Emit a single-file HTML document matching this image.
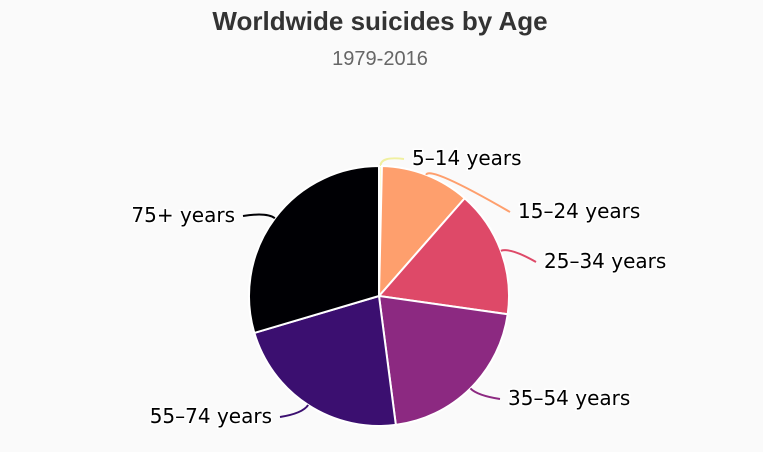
<!DOCTYPE html>
<html><head><meta charset="utf-8">
<style>
body{margin:0;background:#fafafa;}
svg{display:block;}
.lbl{font-family:"DejaVu Sans","Liberation Sans",sans-serif;font-size:20px;fill:#000;paint-order:stroke;stroke:#fff;stroke-width:3px;}
</style></head>
<body>
<svg id="chart" width="763" height="452" viewBox="0 0 763 452">
<rect width="763" height="452" fill="#fafafa"/>
<text x="380" y="30" text-anchor="middle" font-family="Liberation Sans, sans-serif" font-weight="bold" font-size="26" fill="#333">Worldwide suicides by Age</text>
<text x="380" y="65" text-anchor="middle" font-family="Liberation Sans, sans-serif" font-size="20" fill="#666">1979-2016</text>
<g id="pie"></g>
</svg>
<script>
const categories = ["5-14 years","15-24 years","25-34 years","35-54 years","55-74 years","75+ years"];
const values = [0.36, 11.1, 15.8, 20.7, 22.5, 29.6];
const colors = ["#fcfdbf","#fe9f6d","#de4968","#8c2981","#3b0f70","#000004"];
const labelAnchors = [[412,165,"start"],[518,218,"start"],[544,268,"start"],[508,405,"start"],[272,423,"end"],[235,222,"end"]];
const ns="http://www.w3.org/2000/svg";
const g=document.getElementById("pie");
const cx=379, cy=296, R=130;
const total=values.reduce((a,b)=>a+b,0);
function pt(a,r){return [cx+r*Math.sin(a), cy-r*Math.cos(a)];}
let a0=0;
values.forEach((v,i)=>{
  const a1=a0+v/total*2*Math.PI;
  const p0=pt(a0,R), p1=pt(a1,R);
  const large=(a1-a0)>Math.PI?1:0;
  const path=document.createElementNS(ns,"path");
  path.setAttribute("d",`M${cx},${cy}L${p0[0]},${p0[1]}A${R},${R} 0 ${large} 1 ${p1[0]},${p1[1]}Z`);
  path.setAttribute("fill",colors[i]);
  path.setAttribute("stroke","#fff");
  path.setAttribute("stroke-width","2");
  
  
  g.appendChild(path);
  const am=(a0+a1)/2;
  const e=pt(am,R), o=pt(am,R+10);
  const la=labelAnchors[i];
  const tx = la[2]==="start" ? la[0]-8 : la[0]+8;
  const ty = la[1]-6;
  const lead=document.createElementNS(ns,"path");
  lead.setAttribute("d",`M${e[0]},${e[1]}Q${o[0]},${o[1]} ${tx},${ty}`);
  lead.setAttribute("fill","none");
  lead.setAttribute("stroke",colors[i]==="#fcfdbf"?"#f0f0a0":colors[i]);
  lead.setAttribute("stroke-width","2");
  
  
  g.appendChild(lead);
  const t=document.createElementNS(ns,"text");
  t.setAttribute("x",la[0]);t.setAttribute("y",la[1]);
  t.setAttribute("text-anchor",la[2]);
  t.setAttribute("class","lbl");
  t.textContent=categories[i].replace("-","–");
  
  
  g.appendChild(t);
  a0=a1;
});
</script>
</body></html>
